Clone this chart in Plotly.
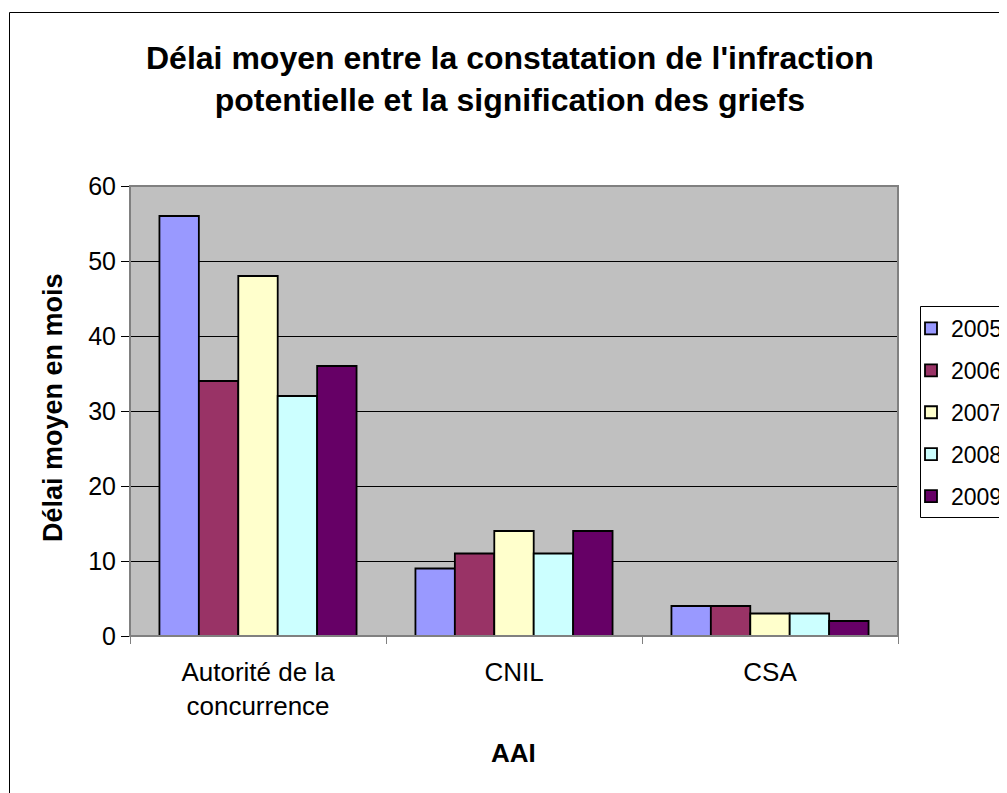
import plotly.graph_objects as go

categories = ["Autorité de la<br>concurrence", "CNIL", "CSA"]
years = ["2005", "2006", "2007", "2008", "2009"]
v2005 = [56, 9, 4]
v2006 = [34, 11, 4]
v2007 = [48, 14, 3]
v2008 = [32, 11, 3]
v2009 = [36, 14, 2]
series = [v2005, v2006, v2007, v2008, v2009]
colors = ["#9999FF", "#993366", "#FFFFCC", "#CCFFFF", "#660066"]

W, H = 1007, 793
OFF = 8  # page body margin
# plot area in screen pixels
SL, SR, ST, SB = 130, 898, 186, 636
L, R, T, B = SL - OFF, SR - OFF, ST - OFF, SB - OFF


def px(x):
    """screen x -> paper"""
    return (x - OFF - L) / (R - L)


def py(y):
    """screen y -> paper"""
    return (B - (y - OFF)) / (B - T)


FONT = "Liberation Sans, Arial, sans-serif"

fig = go.Figure()
for yr, vals, c in zip(years, series, colors):
    fig.add_trace(go.Bar(
        x=categories, y=vals, name=yr, legendgroup=yr,
        marker=dict(color=c, line=dict(color="#000000", width=1.8)),
    ))

fig.update_layout(
    width=W, height=H,
    margin=dict(l=L, r=W - R, t=T, b=H - B, autoexpand=False),
    paper_bgcolor="#FFFFFF",
    plot_bgcolor="#C0C0C0",
    barmode="group",
    bargap=0.23,
    bargroupgap=0,
    font=dict(family=FONT, color="#000000", size=25),
    showlegend=True,
    legend=dict(
        x=px(911), y=py(307), xanchor="left", yanchor="top",
        borderwidth=0, bgcolor="rgba(0,0,0,0)",
        font=dict(size=23, family=FONT),
        tracegroupgap=9,
        itemwidth=30,
    ),
    xaxis=dict(
        showgrid=False, tickson="boundaries", ticks="outside", ticklen=7,
        tickcolor="#808080", showline=True, linecolor="#808080", linewidth=1,
        tickfont=dict(size=26, family=FONT), ticklabelstandoff=13,
    ),
    yaxis=dict(
        range=[0, 60], dtick=10, showgrid=True, gridcolor="#000000", gridwidth=1,
        ticks="outside", ticklen=8, tickcolor="#000000",
        showline=True, linecolor="#404040", linewidth=1,
        tickfont=dict(size=25, family=FONT), zeroline=False,
    ),
    shapes=[
        dict(type="rect", xref="paper", yref="paper", x0=0, x1=1, y0=0, y1=1,
             line=dict(color="#808080", width=2), layer="above"),
        dict(type="rect", xref="paper", yref="paper",
             x0=px(9.5), x1=px(1030), y0=py(12.5), y1=py(830),
             line=dict(color="#000000", width=1), layer="below"),
        dict(type="rect", xref="paper", yref="paper",
             x0=px(920.5), x1=px(1030), y0=py(306.5), y1=py(517.5),
             line=dict(color="#000000", width=1), fillcolor="#FFFFFF", layer="below"),
    ],
    annotations=[
        dict(text="<b>Délai moyen entre la constatation de l'infraction<br>potentielle et la signification des griefs</b>",
             xref="paper", yref="paper", x=px(510), y=py(79), xanchor="center", yanchor="middle",
             showarrow=False, font=dict(size=32, family=FONT)),
        dict(text="<b>Délai moyen en mois</b>", xref="paper", yref="paper",
             x=px(53), y=py(408), xanchor="center", yanchor="middle", textangle=-90,
             showarrow=False, font=dict(size=27, family=FONT)),
        dict(text="<b>AAI</b>", xref="paper", yref="paper",
             x=px(513), y=py(753), xanchor="center", yanchor="middle",
             showarrow=False, font=dict(size=26, family=FONT)),
    ],
)

fig.write_html("out.html")
